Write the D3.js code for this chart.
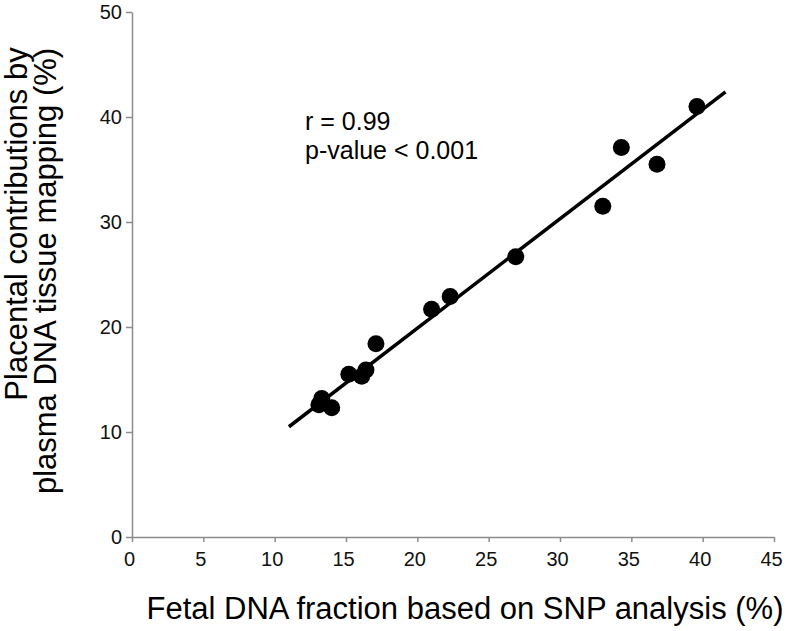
<!DOCTYPE html>
<html>
<head>
<meta charset="utf-8">
<script src="https://cdn.jsdelivr.net/npm/d3@7"></script>
<style>
html,body{margin:0;padding:0;background:#fff;}
svg{display:block;font-family:"Liberation Sans",Arial,sans-serif;}
</style>
</head>
<body>
<svg id="chart" width="793" height="631"></svg>
<script>
const fetalSNP = [13.1, 13.3, 14.0, 15.2, 16.1, 16.4, 17.1, 21.0, 22.3, 26.9, 33.0, 34.3, 36.8, 39.6];
const placentalMapping = [12.6, 13.2, 12.3, 15.5, 15.3, 15.9, 18.4, 21.7, 22.9, 26.7, 31.5, 37.1, 35.5, 41.0];
const fitX = [11.0, 41.6];
const fitY = [10.5, 42.4];
const xTicks = [0, 5, 10, 15, 20, 25, 30, 35, 40, 45];
const yTicks = [0, 10, 20, 30, 40, 50];
const annotation = ["r = 0.99", "p-value < 0.001"];
const xTitle = "Fetal DNA fraction based on SNP analysis (%)";
const yTitle = ["Placental contributions by", "plasma DNA tissue mapping (%)"];

const svg = d3.select("#chart");
const x = d3.scaleLinear().domain([0, 45]).range([132, 774]);
const y = d3.scaleLinear().domain([0, 50]).range([537, 12]);
const axisColor = "#8c8c8c";

const xAxis = svg.append("g").attr("transform", `translate(0,${y(0)})`)
  .call(d3.axisBottom(x).tickValues(xTicks).tickSize(5).tickPadding(10).tickSizeOuter(0));
const yAxis = svg.append("g").attr("transform", `translate(${x(0)},0)`)
  .call(d3.axisLeft(y).tickValues(yTicks).tickSize(6).tickPadding(4).tickSizeOuter(0));
[xAxis, yAxis].forEach(g => {
  g.select(".domain").attr("stroke", axisColor).attr("stroke-width", 1.5);
  g.selectAll(".tick line").attr("stroke", axisColor).attr("stroke-width", 1.5);
  g.selectAll(".tick text").attr("fill", "#111").style("font-size", "20px")
    .style("font-family", "'Liberation Sans', Arial, sans-serif");
});
xAxis.selectAll(".tick text").attr("dx", "-3px");

svg.append("line")
  .attr("x1", x(fitX[0])).attr("y1", y(fitY[0]))
  .attr("x2", x(fitX[1])).attr("y2", y(fitY[1]))
  .attr("stroke", "#000").attr("stroke-width", 3.5);

svg.append("g").selectAll("circle")
  .data(fetalSNP.map((v, i) => [v, placentalMapping[i]]))
  .join("circle")
  .attr("cx", d => x(d[0])).attr("cy", d => y(d[1]))
  .attr("r", 8.5).attr("fill", "#000");

svg.append("g").selectAll("text").data(annotation).join("text")
  .attr("x", 305).attr("y", (d, i) => 130 + i * 29)
  .style("font-size", "25px").attr("fill", "#000").text(d => d);

svg.append("text").attr("x", 465).attr("y", 619).attr("text-anchor", "middle")
  .style("font-size", "31px").attr("fill", "#000").text(xTitle);

const yCenters = [224, 271];
svg.append("g").selectAll("text").data(yTitle).join("text")
  .attr("transform", (d, i) => `translate(${27 + i * 29},${yCenters[i]}) rotate(-90)`)
  .attr("text-anchor", "middle")
  .style("font-size", "31px").attr("fill", "#000").text(d => d);
</script>
</body>
</html>
